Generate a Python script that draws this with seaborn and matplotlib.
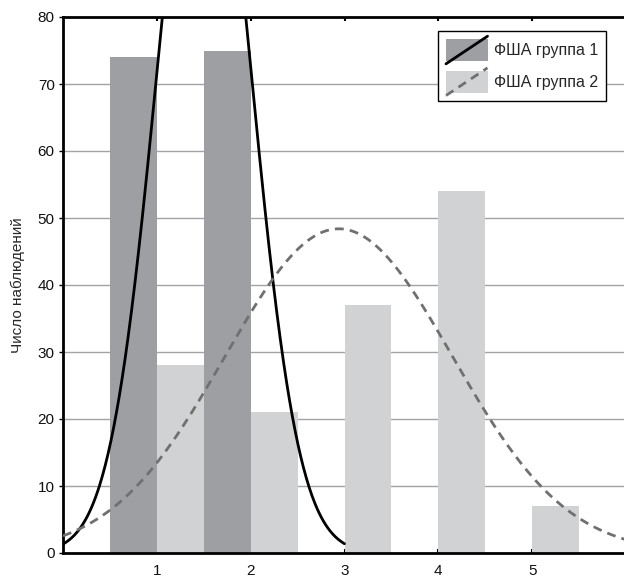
import numpy as np
import pandas as pd
import matplotlib
matplotlib.use("Agg")
import matplotlib.pyplot as plt
import seaborn as sns
from matplotlib.legend_handler import HandlerBase
from matplotlib.patches import Rectangle
from matplotlib.lines import Line2D

# Histogram counts per score for the two groups
scores = [1, 2, 3, 4, 5]
group1_counts = [74, 75, 0, 0, 0]
group2_counts = [28, 21, 37, 54, 7]
group_names = ["ФША группа 1", "ФША группа 2"]
y_ticks = [0, 10, 20, 30, 40, 50, 60, 70, 80]

bar_colors = ["#9e9fa3", "#d1d2d4"]
line_colors = ["#000000", "#707070"]

sns.set_theme(style="white")
plt.rcParams["font.family"] = ["Liberation Sans", "DejaVu Sans"]

df = pd.DataFrame({
    "score": scores * 2,
    "count": group1_counts + group2_counts,
    "group": [group_names[0]] * len(scores) + [group_names[1]] * len(scores),
})

fig = plt.figure(figsize=(6.24, 5.78), dpi=100)
ax = fig.add_axes([63 / 624, 25 / 578, 563 / 624, 536 / 578])

for y in y_ticks[1:-1]:
    ax.axhline(y, color="#a3a3a3", lw=1.0, zorder=0)

sns.barplot(data=df, x="score", y="count", hue="group", hue_order=group_names,
            palette=bar_colors, native_scale=True, width=1.0, saturation=1,
            linewidth=0, edgecolor="none", legend=False, errorbar=None, ax=ax)


def normal_fit(counts, xs):
    c = np.asarray(counts, float)
    s = np.asarray(scores, float)
    n = c.sum()
    mu = (c * s).sum() / n
    sd = np.sqrt((c * (s - mu) ** 2).sum() / (n - 1))
    return n / (sd * np.sqrt(2 * np.pi)) * np.exp(-(xs - mu) ** 2 / (2 * sd ** 2))


xs1 = np.linspace(0, 3, 400)
xs2 = np.linspace(0, 6, 600)
sns.lineplot(x=xs1, y=normal_fit(group1_counts, xs1), color=line_colors[0],
             lw=2.0, ax=ax, zorder=4)
sns.lineplot(x=xs2, y=normal_fit(group2_counts, xs2), color=line_colors[1],
             lw=2.0, ax=ax, zorder=4, dashes=False, linestyle=(0, (3.2, 2.2)))

ax.set_xlim(0, 6)
ax.set_ylim(0, 80)
ax.set_xticks(scores)
ax.set_xticklabels([str(s) for s in scores])
ax.set_yticks(y_ticks)
ax.set_xlabel("")
ax.set_ylabel("Число наблюдений", fontsize=11, labelpad=9)

for side in ["left", "top", "bottom"]:
    ax.spines[side].set_visible(True)
    ax.spines[side].set_color("black")
    ax.spines[side].set_linewidth(2.0)
ax.spines["right"].set_visible(False)

ax.tick_params(axis="y", which="both", left=True, direction="out", length=3,
               width=1, labelsize=11, pad=3, colors="black")
ax.tick_params(axis="x", which="both", bottom=True, top=True, direction="in",
               length=3, width=1.5, labelsize=11, pad=8, colors="black")
for lab in ax.get_xticklabels() + ax.get_yticklabels():
    lab.set_color("#111111")


class SwatchWithLine:
    def __init__(self, face, line_color, dashed):
        self.face = face
        self.line_color = line_color
        self.dashed = dashed


class SwatchHandler(HandlerBase):
    def create_artists(self, legend, orig_handle, xdescent, ydescent,
                       width, height, fontsize, trans):
        rect = Rectangle((-xdescent, -ydescent), width, height,
                         facecolor=orig_handle.face, edgecolor="none",
                         transform=trans)
        ls = (0, (3.2, 2.2)) if orig_handle.dashed else "-"
        line = Line2D([-xdescent, -xdescent + width],
                      [-ydescent - 2, -ydescent + height + 2],
                      color=orig_handle.line_color, lw=2.0, linestyle=ls,
                      transform=trans)
        return [rect, line]


handles = [SwatchWithLine(bar_colors[0], line_colors[0], False),
           SwatchWithLine(bar_colors[1], line_colors[1], True)]
leg = ax.legend(handles, group_names,
                handler_map={SwatchWithLine: SwatchHandler()},
                loc="upper left", bbox_to_anchor=(438 / 624, 1 - 31 / 578),
                bbox_transform=fig.transFigure,
                fontsize=11.5, frameon=True, fancybox=False,
                handlelength=2.6, handleheight=1.75, handletextpad=0.4,
                labelspacing=0.6, borderpad=0.5, borderaxespad=0)
leg.get_frame().set_edgecolor("black")
leg.get_frame().set_linewidth(1.0)
leg.get_frame().set_facecolor("white")
leg.get_frame().set_alpha(1)
leg.set_zorder(10)

fig.savefig("out.png", dpi=100)
